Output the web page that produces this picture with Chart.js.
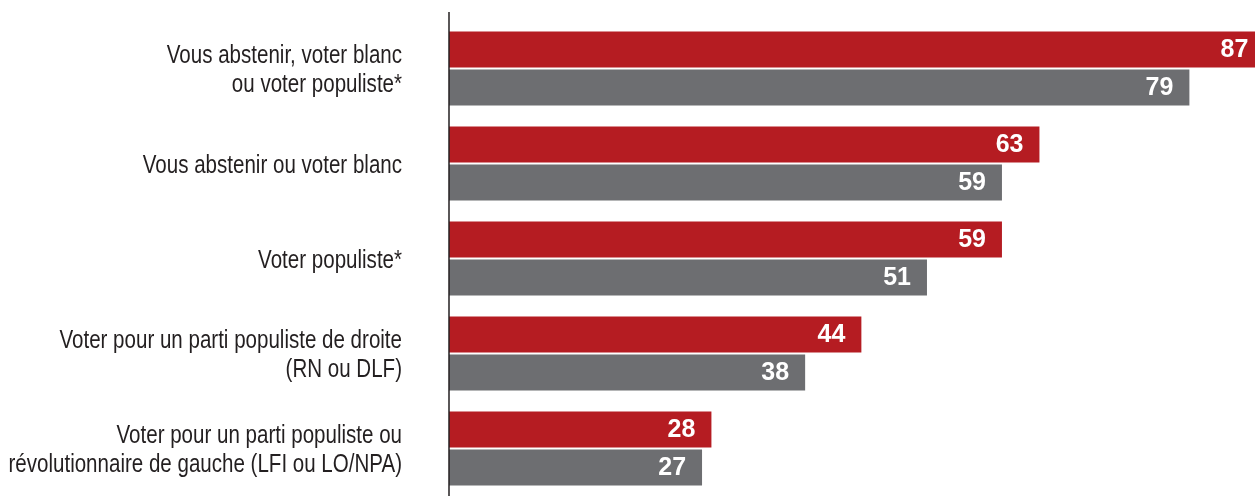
<!DOCTYPE html>
<html>
<head>
<meta charset="utf-8">
<script src="https://cdn.jsdelivr.net/npm/chart.js@4/dist/chart.umd.min.js"></script>
<style>
  html, body { margin: 0; padding: 0; background: #fff; }
  #wrap { width: 1255px; height: 496px; position: relative; }
</style>
</head>
<body>
<div id="wrap"><canvas id="c"></canvas></div>
<script>
// catégories (une entrée par ligne de texte)
const categories = [
  ['Vous abstenir, voter blanc', 'ou voter populiste*'],
  ['Vous abstenir ou voter blanc'],
  ['Voter populiste*'],
  ['Voter pour un parti populiste de droite', '(RN ou DLF)'],
  ['Voter pour un parti populiste ou', 'révolutionnaire de gauche (LFI ou LO/NPA)']
];
const serieRouge = [87, 63, 59, 44, 28];
const serieGrise = [79, 59, 51, 38, 27];

const RED = '#b51c22';
const GREY = '#6d6e71';
const TEXT = '#231f20';
const FONT = '"Liberation Sans", Arial, sans-serif';
const NARROW = 0.79; // police condensée simulée

// libellés, valeurs et trait vertical
const decor = {
  id: 'decor',
  afterDatasetsDraw(chart) {
    const ctx = chart.ctx;
    const x = chart.scales.x, y = chart.scales.y;
    ctx.save();

    // trait de l'axe
    ctx.strokeStyle = '#231f20';
    ctx.lineWidth = 1.5;
    ctx.beginPath();
    ctx.moveTo(x.getPixelForValue(0), 12);
    ctx.lineTo(x.getPixelForValue(0), chart.height);
    ctx.stroke();

    // libellés des catégories
    ctx.fillStyle = TEXT;
    ctx.font = '26px ' + FONT;
    ctx.textAlign = 'right';
    ctx.textBaseline = 'alphabetic';
    const lh = 28.5;
    categories.forEach(function(lines, i) {
      const cy = y.getPixelForValue(i);
      lines.forEach(function(t, j) {
        ctx.save();
        ctx.translate(402, cy + 9 + (j - (lines.length - 1) / 2) * lh);
        ctx.scale(NARROW, 1);
        ctx.fillText(t, 0, 0);
        ctx.restore();
      });
    });

    // valeurs dans les barres
    ctx.fillStyle = '#fff';
    ctx.font = 'bold 25px ' + FONT;
    ctx.textBaseline = 'middle';
    chart.data.datasets.forEach(function(ds, di) {
      const meta = chart.getDatasetMeta(di);
      meta.data.forEach(function(bar, i) {
        const px = x.getPixelForValue(ds.data[i]);
        ctx.fillText(String(ds.data[i]), px - 16, bar.y + 1);
      });
    });
    ctx.restore();
  }
};

new Chart(document.getElementById('c'), {
  type: 'bar',
  data: {
    labels: categories.map(function(l) { return l.join(' '); }),
    datasets: [
      { label: 'rouge', data: serieRouge, backgroundColor: RED },
      { label: 'gris', data: serieGrise, backgroundColor: GREY }
    ]
  },
  options: {
    indexAxis: 'y',
    responsive: true,
    maintainAspectRatio: false,
    animation: false,
    categoryPercentage: 0.8,
    barPercentage: 0.95,
    layout: { padding: { left: 449, top: 21, right: 0, bottom: 0 } },
    plugins: { legend: { display: false }, tooltip: { enabled: false } },
    scales: {
      x: { display: false, min: 0, max: 86 },
      y: { display: false }
    }
  },
  plugins: [decor]
});
</script>
</body>
</html>
